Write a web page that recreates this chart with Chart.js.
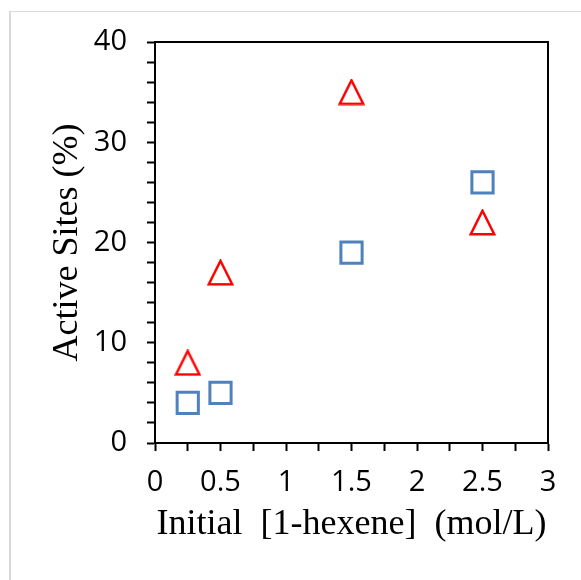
<!DOCTYPE html>
<html lang="en">
<head>
  <meta charset="UTF-8" />
  <title>Active Sites vs Initial 1-hexene</title>
  <script src="https://cdn.jsdelivr.net/npm/chart.js"></script>
  <style>
    body { margin: 0; background: #fff; }
    .wrap { position: relative; width: 581px; height: 580px; }
    .frame { position: absolute; left: 9px; top: 11px; right: -5px; bottom: -5px;
             border-left: 2px solid #d9d9d9; border-top: 1px solid #d9d9d9; }
    canvas { position: absolute; left: 0; top: 0; }
  </style>
</head>
<body>
  <div class="wrap">
    <div class="frame"></div>
    <canvas id="chart" width="581" height="580"></canvas>
  </div>

  <script>
    // data
    const concentration = [0.25, 0.5, 1.5, 2.5];
    const squareSites = [4, 5, 19, 26];
    const triangleSites = [8, 17, 35, 22];

    const xTickValues = [0, 0.5, 1, 1.5, 2, 2.5, 3];
    const xTickLabels = ['0', '0.5', '1', '1.5', '2', '2.5', '3'];
    const yTickValues = [0, 10, 20, 30, 40];
    const yTickLabels = ['0', '10', '20', '30', '40'];

    const toPoints = (xs, ys) => xs.map((x, i) => ({ x: x, y: ys[i] }));

    // Excel-like open triangle marker (about as tall as it is wide)
    function triangleMarker(size, color, lw) {
      const c = document.createElement('canvas');
      c.width = size; c.height = size;
      const g = c.getContext('2d');
      const p = lw / 2 + 0.5;
      g.strokeStyle = color;
      g.lineWidth = lw;
      g.lineJoin = 'miter';
      g.beginPath();
      g.moveTo(size / 2, p);
      g.lineTo(size - p, size - p);
      g.lineTo(p, size - p);
      g.closePath();
      g.stroke();
      return c;
    }

    const boxBorder = {
      id: 'boxBorder',
      beforeDatasetsDraw(chart) {
        const a = chart.chartArea, ctx = chart.ctx;
        ctx.save();
        ctx.strokeStyle = '#000';
        ctx.lineWidth = 2;
        ctx.strokeRect(a.left, a.top, a.right - a.left, a.bottom - a.top);
        ctx.restore();
      }
    };

    const tickFont = { family: 'Open Sans', size: 29 };
    const titleFont = { family: 'Liberation Serif', size: 36 };

    new Chart(document.getElementById('chart'), {
      type: 'scatter',
      data: {
        datasets: [
          {
            label: 'squares',
            data: toPoints(concentration, squareSites),
            pointStyle: 'rect',
            pointRadius: 15,
            borderColor: '#4f81bd',
            backgroundColor: 'rgba(0,0,0,0)',
            borderWidth: 3
          },
          {
            label: 'triangles',
            data: toPoints(concentration, triangleSites),
            pointStyle: triangleMarker(27, '#ff0000', 2.5),
            borderColor: '#ff0000',
            backgroundColor: 'rgba(0,0,0,0)'
          }
        ]
      },
      options: {
        responsive: false,
        animation: false,
        layout: { padding: { left: 0, top: 42, right: 33, bottom: 0 } },
        plugins: { legend: { display: false }, tooltip: { enabled: false } },
        scales: {
          x: {
            type: 'linear',
            min: 0,
            max: 3,
            afterFit: s => { s.height = 137; },
            border: { color: '#000', width: 2 },
            grid: { drawOnChartArea: false, tickLength: 8, tickColor: '#000', tickWidth: 2 },
            ticks: {
              stepSize: 0.25,
              autoSkip: false,
              maxRotation: 0,
              padding: 14,
              color: '#000',
              font: tickFont,
              callback: v => {
                const i = xTickValues.indexOf(v);
                return i < 0 ? '' : xTickLabels[i];
              }
            },
            title: {
              display: true,
              text: 'Initial  [1-hexene]  (mol/L)',
              color: '#000',
              font: titleFont,
              padding: { top: 0, bottom: 34 }
            }
          },
          y: {
            min: 0,
            max: 40,
            afterFit: s => { s.width = 155; },
            border: { color: '#000', width: 2 },
            grid: { drawOnChartArea: false, tickLength: 8, tickColor: '#000', tickWidth: 2 },
            ticks: {
              stepSize: 2,
              autoSkip: false,
              padding: 20,
              color: '#000',
              font: tickFont,
              callback: v => {
                const i = yTickValues.indexOf(v);
                return i < 0 ? '' : yTickLabels[i];
              }
            },
            title: {
              display: true,
              text: 'Active Sites (%)',
              color: '#000',
              font: titleFont,
              padding: { top: 46, bottom: 0 }
            }
          }
        }
      },
      plugins: [boxBorder]
    });
  </script>
</body>
</html>
